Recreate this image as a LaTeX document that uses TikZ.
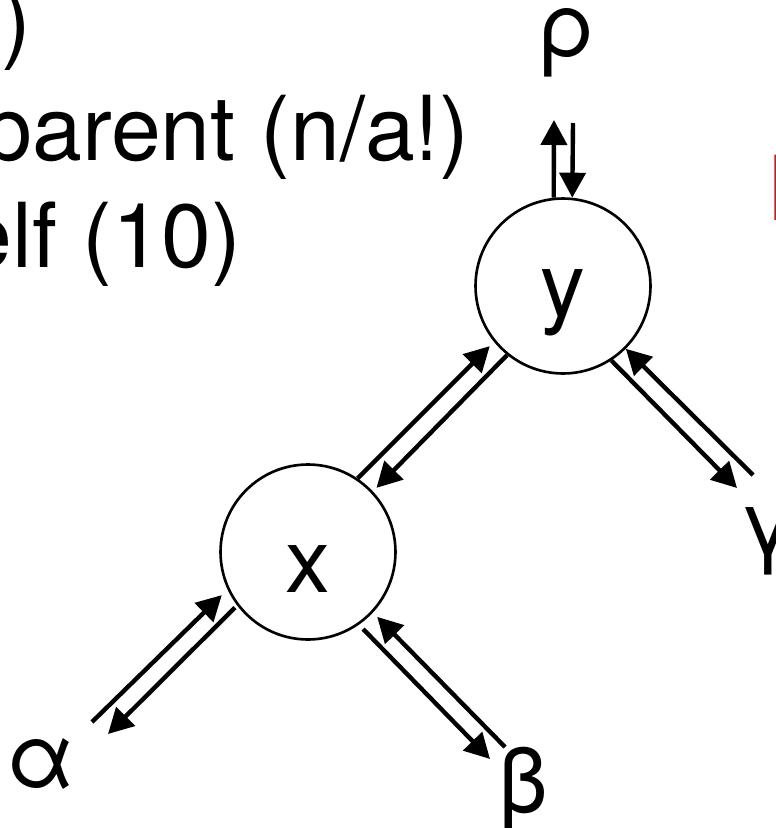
\documentclass[tikz,border=0pt]{standalone}
\usepackage{fontspec}
\setmainfont{TeX Gyre Heros}
\usetikzlibrary{arrows.meta}
\definecolor{slidered}{RGB}{200,32,22}
\newcommand{\bigtext}{\fontsize{51}{61}\selectfont}

\begin{document}
\begin{tikzpicture}[x=0.02cm, y=-0.02cm,
  treenode/.style={circle, draw, line width=1.5pt, minimum size=3.5cm, inner sep=0pt, text depth=0pt, font=\bigtext},
  link/.style={-{Triangle[length=0.5cm,width=0.52cm]}, line width=2.5pt},
  lbl/.style={inner sep=0pt, font=\bigtext}]
\useasboundingbox (0,0) rectangle (775,828);
\fill[white] (0,0) rectangle (775,828);
\clip (0,0) rectangle (775,828);
% Left: slide text, cut off at the edge
\node[lbl, anchor=base east] (t1) at (32,52) {)};
\node[lbl, anchor=base east] (t2) at (470,160) {parent (n/a!)};
\node[lbl, anchor=base east] (t3) at (242,267) {elf (10)};
\node[lbl, anchor=base west, text=slidered] (t4) at (766,220) {R};
% Tree: y on top, x below
\node[treenode, text height=1.24cm] (y) at (563,286) {y};
\node[treenode, text height=1.64cm] (x) at (308,552) {x};
\node[lbl, anchor=base] (rho) at (567,57) {ρ};
\node[lbl, anchor=base west] (gamma) at (739,554) {γ};
\node[lbl, anchor=base] (alpha) at (41,787) {α};
\node[lbl, anchor=base] (beta) at (523,812) {β};
% Free ends of the pointers
\coordinate (rho-in) at (554,120);
\coordinate (rho-out) at (573,123);
\coordinate (g-in) at (737,488);
\coordinate (g-out) at (753,475);
\coordinate (a-in) at (108,734);
\coordinate (a-out) at (92,722);
\coordinate (b-in) at (490,759);
\coordinate (b-out) at (505,747);
% Pointers, one each way
\draw[link] (y.96) -- (rho-in);
\draw[link] (rho-out) -- (y.84);
\draw[link, shorten >=0.12cm] (x.56) -- (y.219);
\draw[link, shorten >=0.1cm] (y.231) -- (x.43);
\draw[link] (y.303) -- (g-in);
\draw[link] (g-out) -- (y.315);
\draw[link, shorten <=0.06cm] (x.217) -- (a-in);
\draw[link, shorten >=0.16cm] (a-out) -- (x.205);
\draw[link, shorten <=0.12cm] (x.305) -- (b-in);
\draw[link, shorten >=0.12cm] (b-out) -- (x.317);
\end{tikzpicture}
\end{document}
